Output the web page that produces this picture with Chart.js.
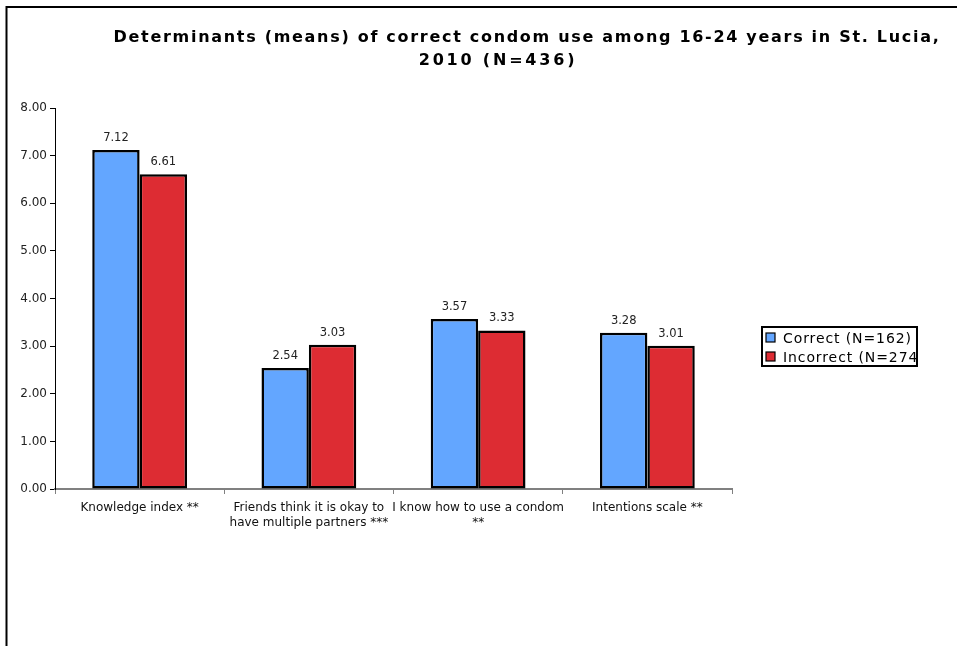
<!DOCTYPE html>
<html>
<head>
<meta charset="utf-8">
<script src="https://cdn.jsdelivr.net/npm/chart.js@4"></script>
<style>
  html, body { margin: 0; padding: 0; background: #fff; }
  #wrap { width: 957px; height: 646px; position: relative; }
</style>
</head>
<body>
<div id="wrap"><canvas id="myChart"></canvas></div>
<script>
// Means per determinant, by condom use group
const categories = [
  "Knowledge index **",
  ["Friends think it is okay to", "have multiple partners ***"],
  ["I know how to use a condom", "**"],
  "Intentions scale **"
];
const correctMeans = [7.12, 2.54, 3.57, 3.28];
const incorrectMeans = [6.61, 3.03, 3.33, 3.01];
const seriesNames = ["Correct (N=162)", "Incorrect (N=274)"];
const titleLines = [
  "Determinants (means) of correct condom use among 16-24 years in St. Lucia,",
  "2010 (N=436)"
];

const FONT = "'DejaVu Sans', Verdana, sans-serif";

// outer frame (top + left edges only)
const framePlugin = {
  id: 'frame',
  beforeDraw(chart) {
    const ctx = chart.ctx;
    ctx.save();
    ctx.fillStyle = '#fff';
    ctx.fillRect(0, 0, chart.width, chart.height);
    ctx.strokeStyle = '#000';
    ctx.lineWidth = 2;
    ctx.beginPath();
    ctx.moveTo(6.5, chart.height);
    ctx.lineTo(6.5, 7);
    ctx.lineTo(chart.width, 7);
    ctx.stroke();
    ctx.restore();
  }
};

// two line bold title, each line centred on its own
const titlePlugin = {
  id: 'bigTitle',
  afterDraw(chart) {
    const ctx = chart.ctx;
    ctx.save();
    ctx.font = "bold 16px " + FONT;
    ctx.fillStyle = '#000';
    ctx.textAlign = 'center';
    ctx.textBaseline = 'alphabetic';
    ctx.letterSpacing = '1.7px';
    ctx.fillText(titleLines[0], 527, 42);
    ctx.letterSpacing = '2.8px';
    ctx.fillText(titleLines[1], 498, 65);
    ctx.restore();
  }
};

// value above every bar
const valuePlugin = {
  id: 'values',
  afterDatasetsDraw(chart) {
    const ctx = chart.ctx;
    ctx.save();
    ctx.font = "11.5px " + FONT;
    ctx.fillStyle = '#222';
    ctx.textAlign = 'center';
    ctx.textBaseline = 'alphabetic';
    chart.data.datasets.forEach((ds, i) => {
      chart.getDatasetMeta(i).data.forEach((bar, j) => {
        ctx.fillText(ds.data[j].toFixed(2), bar.x, bar.y - 9);
      });
    });
    ctx.restore();
  }
};

// boxed legend on the right, text cut at the box edge
const legendPlugin = {
  id: 'boxLegend',
  afterDraw(chart) {
    const ctx = chart.ctx;
    const x0 = 762, y0 = 327, w = 155, h = 39;
    ctx.save();
    ctx.strokeStyle = '#000';
    ctx.lineWidth = 2;
    ctx.strokeRect(x0, y0, w, h);
    ctx.beginPath();
    ctx.rect(x0, y0 - 2, w + 1, h + 4);
    ctx.clip();
    ctx.font = "14px " + FONT;
    ctx.letterSpacing = '0.9px';
    ctx.textBaseline = 'middle';
    chart.data.datasets.forEach((ds, i) => {
      const cy = y0 + 11 + i * 19;
      ctx.fillStyle = ds.backgroundColor;
      ctx.fillRect(x0 + 4, cy - 5, 9, 9);
      ctx.lineWidth = 1.2;
      ctx.strokeStyle = '#000';
      ctx.strokeRect(x0 + 4, cy - 5, 9, 9);
      ctx.fillStyle = '#000';
      ctx.fillText(ds.label, x0 + 21, cy + 1);
    });
    ctx.restore();
  }
};

const ctx = document.getElementById('myChart');

new Chart(ctx, {
  type: 'bar',
  data: {
    labels: categories,
    datasets: [{
      label: seriesNames[0],
      data: correctMeans,
      backgroundColor: '#63a6ff',
      borderColor: '#000',
      borderWidth: 2.5,
      borderSkipped: false
    }, {
      label: seriesNames[1],
      data: incorrectMeans,
      backgroundColor: '#dd2c33',
      borderColor: '#000',
      borderWidth: 2.5,
      borderSkipped: false
    }]
  },
  options: {
    responsive: true,
    maintainAspectRatio: false,
    animation: false,
    devicePixelRatio: 1,
    layout: { padding: { top: 108, right: 225, left: 0, bottom: 0 } },
    datasets: { bar: { categoryPercentage: 0.56, barPercentage: 1.0 } },
    plugins: {
      legend: { display: false },
      title: { display: false },
      tooltip: { enabled: false }
    },
    scales: {
      x: {
        afterFit(scale) { scale.height = 157; },
        border: { color: '#808080', width: 2 },
        grid: { drawOnChartArea: false, color: '#808080', tickLength: 5, offset: true },
        ticks: {
          autoSkip: false, maxRotation: 0, minRotation: 0,
          color: '#111', padding: 7,
          font: { family: FONT, size: 12, lineHeight: 1.2 }
        }
      },
      y: {
        min: 0, max: 8,
        afterFit(scale) { scale.width = 55; },
        border: { color: '#000', width: 1 },
        grid: { drawOnChartArea: false, color: '#000', tickLength: 5 },
        ticks: {
          stepSize: 1, padding: 3, color: '#222',
          font: { family: FONT, size: 12 },
          callback: v => v.toFixed(2)
        }
      }
    }
  },
  plugins: [framePlugin, titlePlugin, valuePlugin, legendPlugin]
});
</script>
</body>
</html>
